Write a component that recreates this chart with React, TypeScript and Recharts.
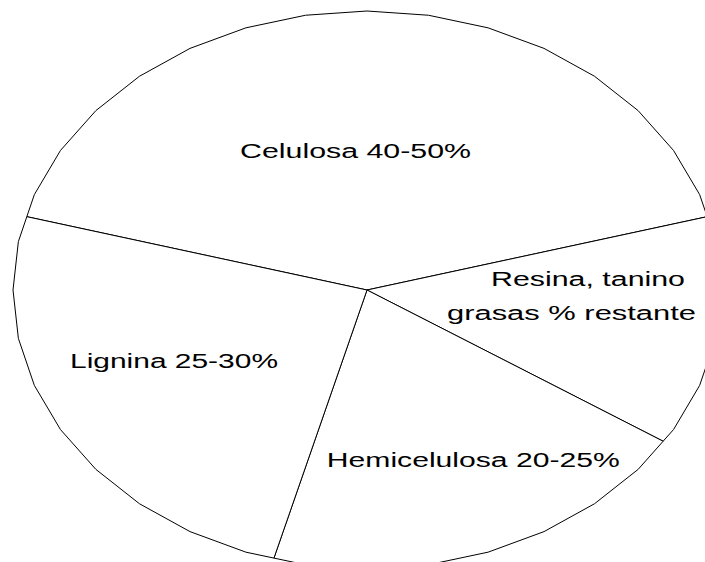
import React from 'react';
import { PieChart, Pie } from 'recharts';

// ---- data ----
const categories = ['Celulosa', 'Resina, tanino, grasas', 'Hemicelulosa', 'Lignina'];
const values = [41.5, 13.4, 20.1, 25.0];
const labelLines = [
  ['Celulosa 40-50%'],
  ['Resina, tanino', 'grasas % restante'],
  ['Hemicelulosa 20-25%'],
  ['Lignina 25-30%'],
];

const data = categories.map((name, i) => ({ name, value: values[i], lines: labelLines[i] }));

// ---- layout / style ----
const W = 705;
const H = 562;
const CX = 367;
const CY = 290;
const RY = 279;
const X_SCALE = 354 / 279;
const STEP = 10;
const RAD = Math.PI / 180;
const FONT = '"Liberation Sans", Arial, sans-serif';
const FONT_SIZE = 21;
const TEXT_STRETCH = 1.44;

// label offsets from the pie centre (dx, dy of baseline centre) and target text width
const LABEL_LAYOUT = [
  [{ dx: -11.5, dy: -132, w: 231 }],
  [{ dx: 221, dy: -4.3, w: 194 }, { dx: 204.5, dy: 30, w: 249 }],
  [{ dx: 106.3, dy: 177.3, w: 293 }],
  [{ dx: -193, dy: 77.7, w: 208 }],
];

function polyPoint(cx: number, cy: number, R: number, deg: number): [number, number] {
  const a1 = Math.floor(deg / STEP) * STEP;
  const mid = a1 + STEP / 2;
  const r = (R * Math.cos((STEP / 2) * RAD)) / Math.cos((deg - mid) * RAD);
  return [cx + r * Math.cos(deg * RAD) * X_SCALE, cy - r * Math.sin(deg * RAD)];
}

function EllipseSector(props: any) {
  const { cx, cy, outerRadius, startAngle, endAngle } = props;
  const pts: [number, number][] = [];
  pts.push(polyPoint(cx, cy, outerRadius, startAngle));
  if (endAngle < startAngle) {
    let a = Math.floor((startAngle - 1e-6) / STEP) * STEP;
    while (a > endAngle + 1e-6) {
      pts.push([cx + outerRadius * Math.cos(a * RAD) * X_SCALE, cy - outerRadius * Math.sin(a * RAD)]);
      a -= STEP;
    }
  } else {
    let a = Math.ceil((startAngle + 1e-6) / STEP) * STEP;
    while (a < endAngle - 1e-6) {
      pts.push([cx + outerRadius * Math.cos(a * RAD) * X_SCALE, cy - outerRadius * Math.sin(a * RAD)]);
      a += STEP;
    }
  }
  pts.push(polyPoint(cx, cy, outerRadius, endAngle));
  const d =
    `M${cx},${cy} ` + pts.map((p) => `L${p[0].toFixed(2)},${p[1].toFixed(2)}`).join(' ') + ' Z';
  return <path d={d} fill="#ffffff" stroke="#000000" strokeWidth={1} strokeLinejoin="miter" />;
}

function renderLabel(props: any) {
  const { cx, cy, index } = props;
  const lines = labelLines[index];
  const layout = LABEL_LAYOUT[index];
  return (
    <g key={`lbl-${index}`}>
      {lines.map((t, j) => (
        <g key={j} transform={`translate(${cx + layout[j].dx},${cy + layout[j].dy}) scale(${TEXT_STRETCH},1)`}>
          <text
            x={0}
            y={0}
            textAnchor="middle"
            fontFamily={FONT}
            fontSize={FONT_SIZE}
            fill="#000000"
            textLength={layout[j].w / TEXT_STRETCH}
            lengthAdjust="spacingAndGlyphs"
          >
            {t}
          </text>
        </g>
      ))}
    </g>
  );
}

export default function App() {
  return (
    <div style={{ position: 'absolute', left: 0, top: 0, width: W, height: H, background: '#ffffff', overflow: 'hidden' }}>
      <PieChart width={W} height={H} margin={{ top: 0, right: 0, bottom: 0, left: 0 }}>
        <Pie
          data={data}
          dataKey="value"
          nameKey="name"
          cx={CX}
          cy={CY}
          innerRadius={0}
          outerRadius={RY}
          startAngle={164.7}
          endAngle={-195.3}
          paddingAngle={0}
          isAnimationActive={false}
          shape={EllipseSector}
          activeShape={EllipseSector}
          inactiveShape={EllipseSector}
          label={renderLabel}
          labelLine={false}
          stroke="#000000"
          fill="#ffffff"
        />
      </PieChart>
    </div>
  );
}
